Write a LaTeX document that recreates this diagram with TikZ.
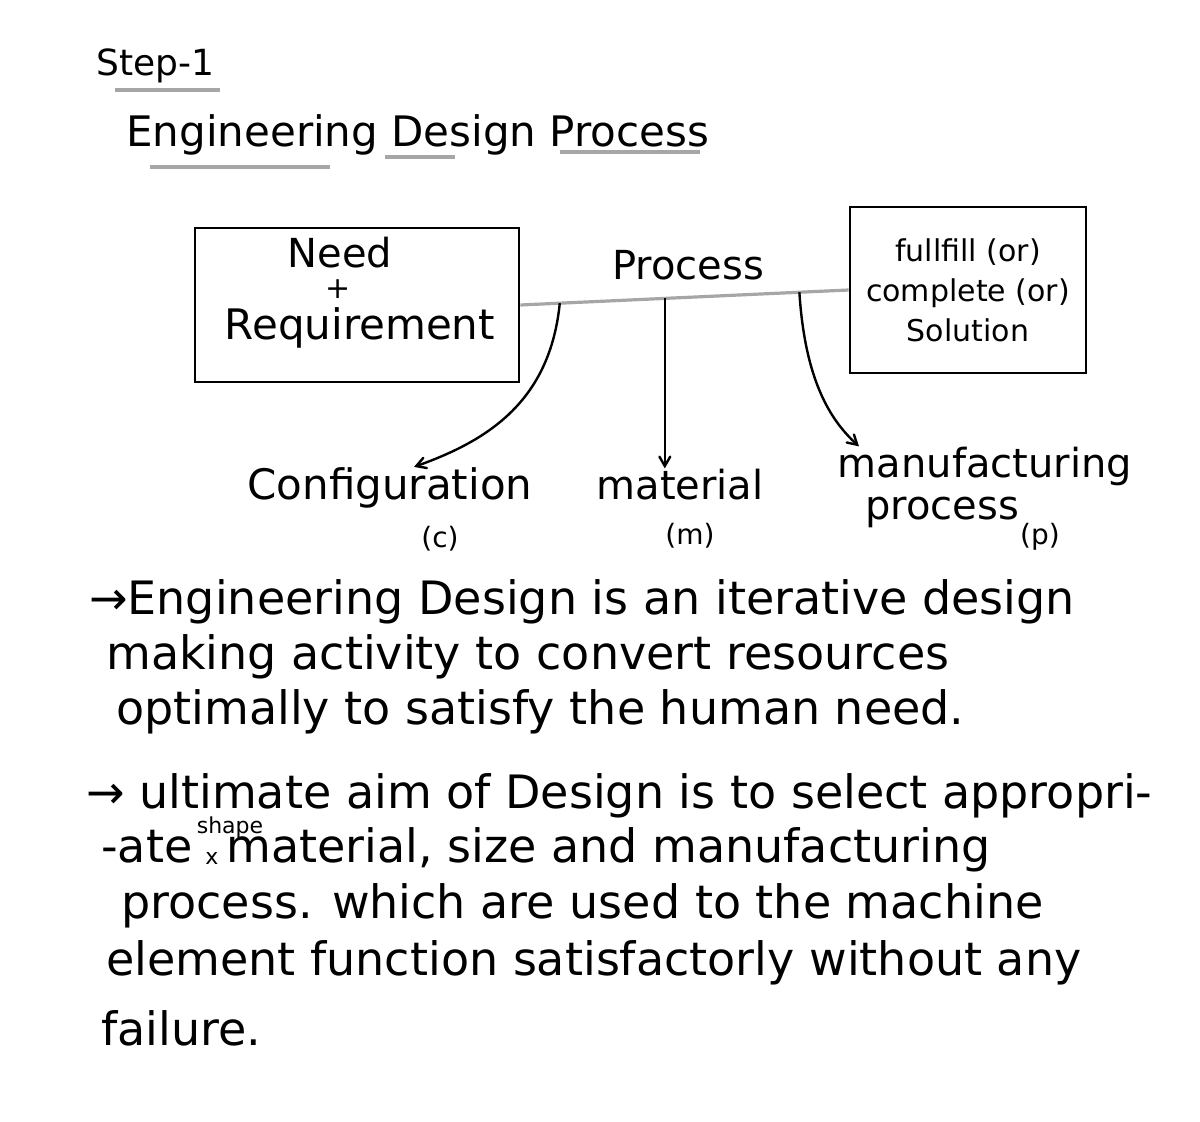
\documentclass[tikz,border=0pt]{standalone}
\usepackage{fontspec}
\setmainfont{DejaVu Sans}
\usetikzlibrary{arrows,positioning}

\begin{document}
\begin{tikzpicture}[x=0.5pt,y=-0.5pt,>=angle 60,line width=1.2pt,
                    box/.style={draw,line width=1.4pt,align=center},
                    word/.style={anchor=base west,inner sep=0pt,
                                 font=\fontsize{23}{26}\selectfont},
                    label/.style={anchor=base,inner sep=0pt,
                                  font=\fontsize{20}{24}\selectfont},
                    tiny/.style={anchor=base,inner sep=0pt,
                                 font=\fontsize{14}{16}\selectfont},
                    uline/.style={draw=gray!70,line width=2pt}]

  \useasboundingbox (0,0) rectangle (1200,1122);

  % heading
  \node[word,font=\fontsize{18}{20}\selectfont] (step) at (95,76) {Step-1};
  \node[word,font=\fontsize{21}{24}\selectfont] (title) at (125,147) {Engineering Design Process};
  \draw[uline] (115,90) -- (220,90);
  \draw[uline] (150,167) -- (330,167);
  \draw[uline] (385,157) -- (455,157);
  \draw[uline] (560,152) -- (700,152);

  % boxes and the process line
  \node[box,minimum width=162pt,minimum height=77pt] (need) at (357,305) {};
  \node[label] (needa) at (340,268) {Need};
  \node[label,font=\fontsize{15}{16}\selectfont] (needb) at (338,299) {+};
  \node[label,font=\fontsize{21}{24}\selectfont] (needc) at (360,340) {Requirement};
  \node[box,minimum width=118pt,minimum height=83pt,
        font=\fontsize{15}{20}\selectfont] (goal) at (968,290)
       {fullfill (or)\\complete (or)\\Solution};
  \node[label] (process) at (688,280) {Process};

  \draw[gray!70,line width=1.6pt] (need.east) -- coordinate[pos=0.12] (c1)
        coordinate[pos=0.44] (c2) coordinate[pos=0.85] (c3) (goal.west);

  % the three parts
  \node[label,font=\fontsize{21}{24}\selectfont] (config) at (390,500) {Configuration};
  \node[label] (mat)    at (680,500) {material};
  \node[label] (manuf)  at (985,478) {manufacturing};
  \node[label] (manuf2) at (942,520) {process};
  \node[tiny]  (cc) at (440,548) {(c)};
  \node[tiny]  (cm) at (690,545) {(m)};
  \node[tiny]  (cp) at (1040,545) {(p)};

  \draw[->] (c1) .. controls (550,400) and (490,440) .. ([xshift=12pt]config.north);
  \draw[->] (c2) -- (c2 |- mat.north);
  \draw[->] (c3) .. controls (805,380) and (830,420) .. ([xshift=-63pt]manuf.north);

  % notes
  \node[word] (a1) at (88,615)  {→Engineering Design is an iterative design};
  \node[word] (a2) at (105,670) {making activity to convert resources};
  \node[word] (a3) at (115,725) {optimally to satisfy the human need.};

  \node[word] (b1) at (85,808)  {→ ultimate aim of Design is to select appropri-};
  \node[word] (b2) at (100,862) {-ate};
  \node[tiny,font=\fontsize{11}{12}\selectfont] (ins) at (212,864) {x};
  \node[word] (b2m) at (225,862) {material, size and manufacturing};
  \node[tiny,font=\fontsize{11}{12}\selectfont] (shape) at (230,834) {shape};
  \node[word] (b3) at (120,918) {process. which are used to the machine};
  \node[word] (b4) at (105,975) {element function satisfactorly without any};
  \node[word] (b5) at (100,1045) {failure.};
\end{tikzpicture}
\end{document}
